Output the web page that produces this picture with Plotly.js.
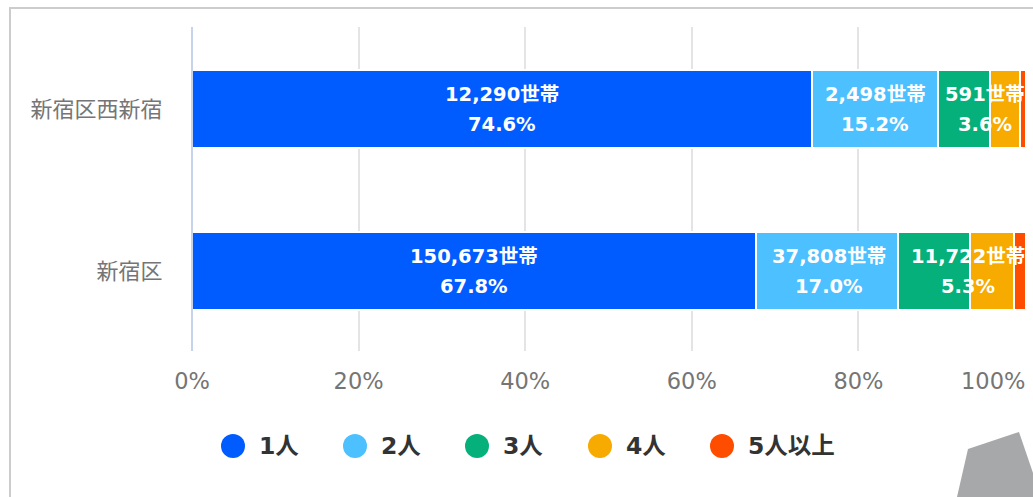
<!DOCTYPE html>
<html><head><meta charset="utf-8">
<script src="https://cdn.plot.ly/plotly-3.0.1.min.js"></script>
<style>html,body{margin:0;padding:0;background:#fff;overflow:hidden}#c{width:1033px;height:497px}</style>
</head><body><div id="c"></div>
<script>
const categories = ['新宿区', '新宿区西新宿'];
const seriesNames = ['1人', '2人', '3人', '4人', '5人以上'];
const seriesColors = ['#005cff', '#4dc0ff', '#05b07a', '#f7aa00', '#ff4d00'];
const oneP = [67.7, 74.4];
const twoP = [17.0, 15.2];
const threeP = [8.7, 6.2];
const fourP = [5.3, 3.6];
const fiveP = [1.42, 0.72];
const seriesValues = [oneP, twoP, threeP, fourP, fiveP];
const labelHouseholds = [
  ['150,673世帯', '12,290世帯'],
  ['37,808世帯', '2,498世帯'],
  ['11,722世帯', '591世帯']
];
const labelPercents = [
  ['67.8%', '74.6%'],
  ['17.0%', '15.2%'],
  ['5.3%', '3.6%']
];
const labelX = [
  [33.85, 37.2],
  [76.5, 82.0],
  [93.1, 95.2]
];
const xTickVals = [0, 20, 40, 60, 80, 100];
const xTickText = ['0%', '20%', '40%', '60%', '80%', ''];
const lastTick = '100%';
const legendCx = [233, 355, 477, 600, 722];

const W = 1033, H = 497, L = 192, R = 1025, T = 27, B = 351;
const px = v => (v - L) / (R - L);
const py = v => (B - v) / (B - T);
const FONT = '"DejaVu Sans","Noto Sans CJK JP",sans-serif';

const traces = seriesNames.map((n, i) => ({
  type: 'bar', orientation: 'h', name: n, y: categories, x: seriesValues[i],
  marker: {color: seriesColors[i], line: {color: '#fff', width: 2}},
  hoverinfo: 'skip', showlegend: false
}));

const annotations = [];
labelX.forEach((row, s) => row.forEach((x, c) => {
  [[labelHouseholds[s][c], 14.5], [labelPercents[s][c], -15.5]].forEach(([t, dy]) => {
    annotations.push({xref: 'x', yref: 'y', x, y: categories[c], text: '<b>' + t + '</b>',
      yshift: dy, showarrow: false, xanchor: 'center', yanchor: 'middle',
      font: {family: FONT, size: 19.5, color: '#fff'}});
  });
}));
annotations.push({xref: 'x', yref: 'paper', x: 100, y: 0, yshift: -30, yanchor: 'middle', xanchor: 'right',
  xshift: 2, text: lastTick, showarrow: false, font: {family: FONT, size: 22.5, color: '#757575'}});

const shapes = [
  {type: 'line', xref: 'paper', yref: 'paper', x0: px(10), x1: px(10), y0: py(8), y1: py(H), line: {color: '#cccccc', width: 2}},
  {type: 'line', xref: 'paper', yref: 'paper', x0: px(9), x1: px(W), y0: py(8), y1: py(8), line: {color: '#cccccc', width: 2}},
  {type: 'line', xref: 'paper', yref: 'paper', x0: px(192), x1: px(192), y0: 0, y1: 1, layer: 'above', line: {color: '#c6d3ea', width: 2}},
  {type: 'path', xref: 'paper', yref: 'paper', fillcolor: '#a7a8aa', line: {width: 0},
   path: 'M' + [[957, 497], [968, 449], [1019, 432], [1033, 473], [1033, 497]].map(p => px(p[0]) + ',' + py(p[1])).join('L') + 'Z'}
];
seriesNames.forEach((n, i) => {
  const cx = legendCx[i], cy = 446, r = 12;
  shapes.push({type: 'circle', xref: 'paper', yref: 'paper', x0: px(cx - r), x1: px(cx + r), y0: py(cy + r), y1: py(cy - r),
    fillcolor: seriesColors[i], line: {width: 0}});
  annotations.push({xref: 'paper', yref: 'paper', x: px(cx + 24), y: py(cy), xanchor: 'left', yanchor: 'middle',
    text: '<b>' + n + '</b>', showarrow: false, font: {family: FONT, size: 23.5, color: '#333333'}});
});

Plotly.newPlot('c', traces, {
  width: W, height: H, autosize: false, barmode: 'stack', bargap: 0.52,
  margin: {l: L, r: W - R, t: T, b: H - B, pad: 0},
  paper_bgcolor: '#fff', plot_bgcolor: '#fff', showlegend: false,
  xaxis: {range: [0, 100], tickvals: xTickVals, ticktext: xTickText, ticks: 'outside', ticklen: 10, tickcolor: 'rgba(0,0,0,0)', showgrid: true,
    gridcolor: '#e4e4e4', gridwidth: 2, zeroline: false, showline: false,
    tickfont: {family: FONT, size: 22.5, color: '#757575'}, automargin: false},
  yaxis: {type: 'category', categoryorder: 'array', categoryarray: categories, range: [-0.494, 1.506], showgrid: false, zeroline: false,
    showline: false, ticks: 'outside', ticklen: 24, tickcolor: 'rgba(0,0,0,0)',
    tickfont: {family: FONT, size: 22, color: '#757575'}, automargin: false},
  annotations, shapes
}, {displayModeBar: false, staticPlot: true});
</script></body></html>
